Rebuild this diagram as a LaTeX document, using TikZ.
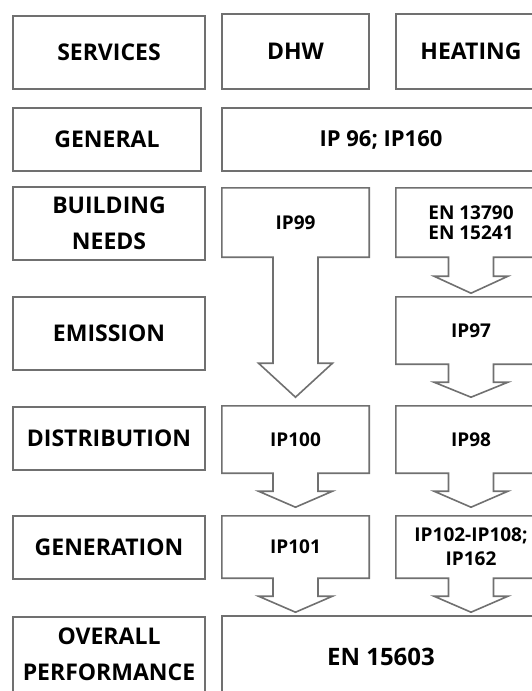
\documentclass[tikz,border=0pt]{standalone}
\usepackage{fontspec}
\setmainfont{Open Sans}
\usepackage{tikz}
\usetikzlibrary{positioning,calc}
\definecolor{edgegray}{RGB}{112,112,112}
\tikzstyle{rowhead} = [rectangle, draw=edgegray, line width=1.6pt, minimum width=192pt, minimum height=73pt, inner sep=0pt, align=center, font=\bfseries\fontsize{23}{36}\selectfont]
\tikzstyle{cell} = [rectangle, draw=edgegray, line width=1.6pt, inner sep=0pt, align=center, font=\bfseries\fontsize{23}{26}\selectfont]
\tikzstyle{arrowcell} = [rectangle, draw=none, inner sep=0pt, align=center, font=\bfseries\fontsize{19}{22}\selectfont]
\tikzstyle{outline} = [draw=edgegray, line width=1.6pt, fill=white]
\newcommand{\arrowcell}[3]{\draw [outline] (#1.south west) -- (#1.north west) -- (#1.north east) -- (#1.south east) -- ($(#1.south)+(22.5,0)$) -- ++(0,#2) -- ++(14.5,0) -- ++(-37,#3) -- ++(-37,-#3) -- ++(14.5,0) -- ++(0,-#2) -- cycle;}

\begin{document}
\begin{tikzpicture}[x=1pt, y=-1pt]
\useasboundingbox (0,0) rectangle (532,691);
\clip (0,0) rectangle (532,691);
\node (services) [rowhead] at (109,52.5) {SERVICES};
\node (general) [rowhead, minimum width=188pt, minimum height=63pt] at (107,139.5) {GENERAL};
\node (needs) [rowhead] at (109,223.5) {BUILDING\\NEEDS};
\node (emission) [rowhead] at (109,333.5) {EMISSION};
\node (distribution) [rowhead, minimum height=63pt] at (109,438.5) {DISTRIBUTION};
\node (generation) [rowhead, minimum height=63pt] at (109,547.5) {GENERATION};
\node (overall) [rowhead, anchor=north, minimum height=0pt, inner ysep=11pt, text depth=30pt] at (109,616) {OVERALL\\PERFORMANCE};

\node (dhw) [cell, minimum width=147pt, minimum height=75pt] at (295.5,51.5) {DHW};
\node (heating) [cell, minimum width=150pt, minimum height=75pt] at (471,51.5) {HEATING};
\node (ip96) [cell, minimum width=318pt, minimum height=63pt, font=\bfseries\fontsize{22}{26}\selectfont] at (381,139.5) {IP 96; IP160};

\node (ip99) [arrowcell, minimum width=147pt, minimum height=69pt] at (295.5,222.5) {};
\arrowcell{ip99}{106}{34}
\node (ip99text) [arrowcell] at (ip99) {IP99};
\node (en13790) [arrowcell, minimum width=150pt, minimum height=69pt] at (471,222.5) {};
\arrowcell{en13790}{19}{17}
\node (en13790text) [arrowcell, font=\bfseries\fontsize{19}{20}\selectfont] at (en13790) {EN 13790\\EN 15241};
\node (ip97) [arrowcell, minimum width=150pt, minimum height=67pt] at (471,330.5) {};
\arrowcell{ip97}{18}{15}
\node (ip97text) [arrowcell] at (ip97) {IP97};

\node (ip100) [arrowcell, minimum width=147pt, minimum height=67pt] at (295.5,439.5) {};
\arrowcell{ip100}{18}{16}
\node (ip100text) [arrowcell] at (ip100) {IP100};
\node (ip98) [arrowcell, minimum width=150pt, minimum height=67pt] at (471,439.5) {};
\arrowcell{ip98}{18}{16}
\node (ip98text) [arrowcell] at (ip98) {IP98};

\node (ip101) [arrowcell, minimum width=147pt, minimum height=62pt] at (295.5,547) {};
\arrowcell{ip101}{18}{16}
\node (ip101text) [arrowcell] at (ip101) {IP101};
\node (ip102) [arrowcell, minimum width=150pt, minimum height=62pt] at (471,547) {};
\arrowcell{ip102}{18}{16}
\node (ip102text) [arrowcell, font=\bfseries\fontsize{19}{24}\selectfont] at (ip102) {IP102-IP108;\\IP162};

\node (en15603) [cell, anchor=north, minimum width=318pt, inner ysep=32pt, text depth=30pt, font=\bfseries\fontsize{24}{28}\selectfont] at (381,615) {EN 15603};
\end{tikzpicture}
\end{document}
